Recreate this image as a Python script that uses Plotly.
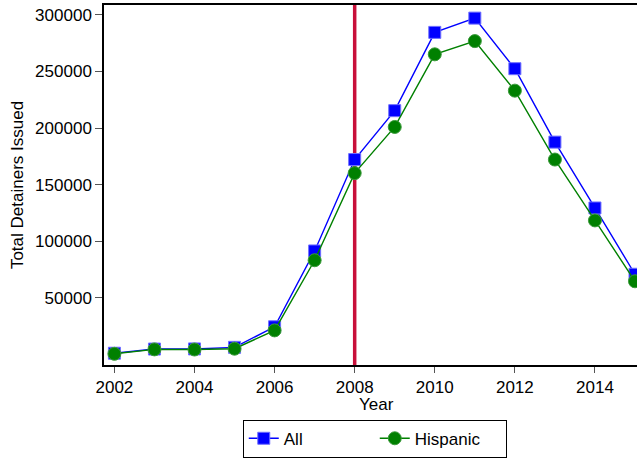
import plotly.graph_objects as go

# Immigration detainers issued per year
years = [2002, 2003, 2004, 2005, 2006, 2007, 2008, 2009, 2010, 2011, 2012, 2013, 2014, 2015]
all_detainers = [1000, 4700, 4800, 6200, 24400, 91400, 172200, 215400, 284600, 297200,
                 252500, 187600, 129400, 70800]
hispanic_detainers = [500, 4400, 4300, 5000, 21200, 83200, 160200, 201000, 265200, 276900,
                      233100, 172200, 118400, 64600]
ytick_vals = [50000, 100000, 150000, 200000, 250000, 300000]
ytick_text = [str(v) for v in ytick_vals]
xtick_vals = [2002, 2004, 2006, 2008, 2010, 2012, 2014]
policy_year = 2008

FONT = "Liberation Sans, Arial, Helvetica, sans-serif"
FS = 17

fig = go.Figure()
fig.add_trace(go.Scatter(
    x=years, y=all_detainers, name="All", mode="lines+markers",
    line=dict(color="#0000FF", width=1.4),
    marker=dict(symbol="square", size=12, color="#0000FF",
                line=dict(color="#6f6fff", width=1)),
))
fig.add_trace(go.Scatter(
    x=years, y=hispanic_detainers, name="Hispanic", mode="lines+markers",
    line=dict(color="#008000", width=1.4),
    marker=dict(symbol="circle", size=13, color="#008000",
                line=dict(color="#3a9a3a", width=1)),
))

fig.add_shape(type="line", xref="x", yref="paper", x0=policy_year, x1=policy_year,
              y0=0, y1=1, line=dict(color="#C8103A", width=3.5), layer="below")

fig.add_annotation(text="Year", xref="paper", yref="paper", x=0.512, y=-0.11,
                   showarrow=False, yanchor="middle", xanchor="center",
                   font=dict(family=FONT, size=FS, color="black"))

fig.update_layout(
    width=637, height=458,
    margin=dict(l=104, r=0, t=5, b=91),
    paper_bgcolor="white", plot_bgcolor="white",
    font=dict(family=FONT, size=FS, color="black"),
    showlegend=True,
    legend=dict(orientation="h", x=0.508, xanchor="center", y=-0.152, yanchor="top",
                bordercolor="black", borderwidth=1, entrywidth=86,
                font=dict(family=FONT, size=FS, color="black"),
                tracegroupgap=0),
)
fig.update_xaxes(
    range=[2001.74, 2015.05], tickvals=xtick_vals, showgrid=False, zeroline=False,
    showline=True, linecolor="black", linewidth=1.5, mirror=True,
    ticks="outside", ticklen=6, tickcolor="#555555", tickwidth=1,
    tickfont=dict(family=FONT, size=FS, color="black"),
)
fig.update_yaxes(
    range=[-9400, 308800], tickvals=ytick_vals, ticktext=ytick_text,
    showgrid=False, zeroline=False,
    showline=True, linecolor="black", linewidth=1.5, mirror=False,
    ticks="outside", ticklen=7, tickcolor="#555555", tickwidth=1,
    tickfont=dict(family=FONT, size=FS, color="black"),
    title=dict(text="Total Detainers Issued", standoff=7,
               font=dict(family=FONT, size=FS, color="black")),
)

fig.write_html("out.html")
